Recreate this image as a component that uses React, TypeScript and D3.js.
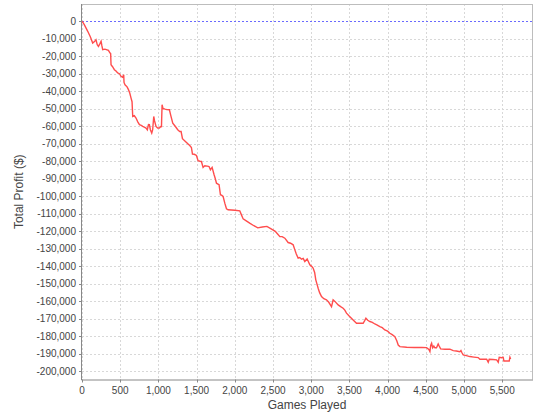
import React from "react";
import * as d3 from "d3";

const games: number[] = [
  0, 30, 75, 110, 140, 160, 183, 200, 215, 235, 250, 260, 271, 300, 346, 367, 375, 380, 400, 424,
  445, 467, 490, 511, 530, 546, 550, 563, 590, 608, 625, 642, 655, 664, 685, 707, 730, 752, 775, 795,
  815, 838, 855, 870, 882, 895, 913, 925, 939, 950, 969, 990, 1013, 1035, 1040, 1048, 1060, 1087, 1110, 1144,
  1160, 1188, 1220, 1253, 1279, 1297, 1315, 1350, 1389, 1410, 1432, 1446, 1470, 1498, 1519, 1545, 1563, 1585, 1607, 1640,
  1663, 1681, 1703, 1729, 1745, 1760, 1780, 1794, 1812, 1830, 1847, 1869, 1891, 1912, 2000, 2065, 2087, 2109, 2150, 2200,
  2250, 2300, 2360, 2420, 2470, 2530, 2560, 2590, 2620, 2655, 2698, 2730, 2764, 2786, 2805, 2829, 2850, 2873, 2895, 2916,
  2947, 2982, 3005, 3025, 3045, 3060, 3075, 3091, 3110, 3135, 3165, 3200, 3230, 3266, 3287, 3310, 3353, 3385, 3418, 3440,
  3462, 3500, 3549, 3593, 3640, 3680, 3700, 3716, 3740, 3768, 3800, 3833, 3865, 3899, 3930, 3964, 4000, 4030, 4060, 4095,
  4120, 4139, 4161, 4250, 4350, 4450, 4510, 4540, 4554, 4565, 4576, 4590, 4605, 4619, 4640, 4662, 4675, 4694, 4750, 4815,
  4859, 4900, 4946, 4960, 4975, 4990, 5030, 5077, 5130, 5186, 5208, 5260, 5296, 5317, 5330, 5380, 5427, 5448, 5461, 5490,
  5513, 5522, 5560, 5592, 5601, 5610,
];

const profit: number[] = [
  0, -2000, -5800, -9000, -12500, -11800, -10600, -13500, -14400, -12800, -11500, -14000, -16300, -16000, -16700, -18200, -18500, -24900, -26000, -27700,
  -28500, -29600, -30000, -31500, -32000, -30600, -35000, -36300, -37500, -39100, -41000, -43900, -46000, -54400, -54000, -55300, -57500, -59100, -59500, -60100,
  -60500, -61000, -62000, -59000, -59100, -62000, -63900, -62000, -54400, -57000, -60100, -61000, -61000, -60000, -60500, -47700, -49800, -50200, -50500, -50600,
  -53500, -58200, -60000, -62000, -63000, -63000, -67100, -68500, -70200, -71000, -72100, -75900, -76000, -76700, -79700, -80000, -80100, -83500, -82600, -82800,
  -83000, -84900, -83500, -87700, -90000, -92500, -93000, -93400, -99100, -99500, -100100, -103900, -107100, -107700, -108000, -108300, -110600, -112900, -114000, -115500,
  -116800, -118000, -117500, -117200, -118500, -120000, -121500, -123000, -123000, -123900, -126400, -126800, -127700, -130600, -133000, -135300, -135000, -135900, -135500, -137200,
  -135800, -139100, -140000, -141000, -143500, -147700, -150000, -152500, -155000, -157200, -158500, -159100, -160500, -163000, -159100, -160000, -162000, -163000, -163900, -165000,
  -166700, -168500, -170600, -172500, -172500, -172500, -171000, -169600, -170800, -171500, -172000, -172900, -173500, -174400, -175000, -176300, -177000, -178200, -179000, -180100,
  -182500, -184900, -185800, -186200, -186300, -186300, -186400, -187500, -188700, -185000, -183900, -186500, -185500, -186500, -186500, -184300, -185500, -187100, -187300, -187300,
  -188100, -188300, -188700, -188000, -189500, -190600, -191000, -191500, -191800, -192100, -193000, -193000, -193000, -194700, -193000, -193200, -193400, -194700, -191900, -192200,
  -192000, -194000, -194000, -194000, -191900, -192900,
];

const xTicks: number[] = [0, 500, 1000, 1500, 2000, 2500, 3000, 3500, 4000, 4500, 5000, 5500];
const yTicks: number[] = d3.range(0, -200001, -10000);

const xTitle = "Games Played";
const yTitle = "Total Profit ($)";

export default function App() {
  const left = 82, right = 532, top = 4, bottom = 379.5;
  const x = d3.scaleLinear().domain([0, 5890]).range([left, right]);
  const y = d3.scaleLinear().domain([-204600, 9800]).range([bottom, top]);
  const fmt = d3.format(",");
  const fmtLabel = (v: number) => fmt(v).replace("−", "-");
  const pts = games.map((g, i) => [g, profit[i]] as [number, number]);
  const line = d3.line<[number, number]>().x((d) => x(d[0])).y((d) => y(d[1]));
  const font = "'Liberation Sans', Arial, sans-serif";

  return (
    <svg width={540} height={420} style={{ position: "absolute", left: 0, top: 0, background: "#fff" }}>
      <rect x={0} y={0} width={540} height={420} fill="#fff" />
      <rect x={left} y={top} width={right - left} height={bottom - top} fill="#fff" />
      {xTicks.map((t) => (
        <line key={"gx" + t} x1={Math.round(x(t)) + 0.5} x2={Math.round(x(t)) + 0.5} y1={top} y2={bottom}
          stroke="#d8d8d8" strokeWidth={1} strokeDasharray="2,2" />
      ))}
      {yTicks.map((t) => (
        <line key={"gy" + t} x1={left} x2={right} y1={Math.round(y(t)) + 0.5} y2={Math.round(y(t)) + 0.5}
          stroke="#d8d8d8" strokeWidth={1} strokeDasharray="2,2" />
      ))}
      <line x1={left} x2={right} y1={Math.round(y(0)) + 0.5} y2={Math.round(y(0)) + 0.5}
        stroke="#6a6aff" strokeWidth={1} strokeDasharray="2,2" />
      <path d={line(pts) || ""} fill="none" stroke="#ff4d4d" strokeWidth={1.4} strokeLinejoin="miter" />
      {/* outline */}
      <line x1={left} x2={right} y1={top + 0.5} y2={top + 0.5} stroke="#bdbdbd" />
      <line x1={right + 0.5} x2={right + 0.5} y1={top} y2={bottom} stroke="#bdbdbd" />
      {/* axes */}
      <line x1={left - 0.5} x2={left - 0.5} y1={top} y2={bottom + 0.5} stroke="#888" />
      <line x1={left - 0.5} x2={right + 1} y1={bottom + 0.5} y2={bottom + 0.5} stroke="#888" />
      {yTicks.map((t) => (
        <g key={"ty" + t}>
          <line x1={left - 3} x2={left - 0.5} y1={Math.round(y(t)) + 0.5} y2={Math.round(y(t)) + 0.5} stroke="#888" />
          <text x={left - 6} y={y(t)} dy="0.35em" textAnchor="end" fontFamily={font} fontSize={10} fill="#444">
            {fmtLabel(t)}
          </text>
        </g>
      ))}
      {xTicks.map((t) => (
        <g key={"tx" + t}>
          <line x1={Math.round(x(t)) + 0.5} x2={Math.round(x(t)) + 0.5} y1={bottom} y2={bottom + 3} stroke="#888" />
          <text x={x(t)} y={bottom + 14} textAnchor="middle" fontFamily={font} fontSize={10} fill="#444">
            {fmtLabel(t)}
          </text>
        </g>
      ))}
      <text x={(left + right) / 2} y={409} textAnchor="middle" fontFamily={font} fontSize={12} fill="#444">
        {xTitle}
      </text>
      <text transform={`translate(23,${(top + bottom) / 2}) rotate(-90)`} textAnchor="middle" fontFamily={font} fontSize={12} fill="#444">
        {yTitle}
      </text>
    </svg>
  );
}
